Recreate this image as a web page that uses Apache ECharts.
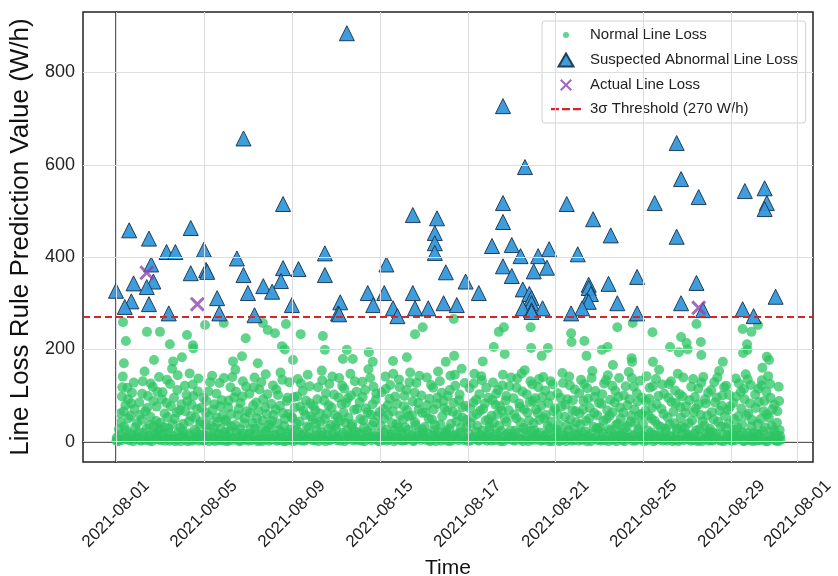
<!DOCTYPE html>
<html>
<head>
<meta charset="utf-8">
<title>Line Loss Rule Prediction</title>
<script src="https://cdn.jsdelivr.net/npm/echarts@6/dist/echarts.min.js"></script>
<style>
    html, body { margin: 0; padding: 0; background: #fff; }
    #main { width: 838px; height: 576px; }
</style>
</head>
<body>
<div id="main"></div>
<script>
// x = day index from 2021-08-01, y = W/h
var tickDays = [0, 4, 8, 12, 16, 20, 24, 28, 31];
var tickLabels = ['2021-08-01', '2021-08-05', '2021-08-09', '2021-08-15', '2021-08-17', '2021-08-21', '2021-08-25', '2021-08-29', '2021-08-01'];
var yTicks = [0, 200, 400, 600, 800];
var threshold = 270;

var normalPoints = [
    [0.02,2],[0.06,4],[0.1,1],[0.16,15],[0.22,42],[0.27,98],[0.31,141],[0.35,66],[0.41,9],[0.47,24],[0.52,117],[0.57,51],[0.63,3],[0.69,83],[0.75,13],[0.81,128],[0.87,31],[0.94,6],
    [1.03,7],[1.09,58],[1.14,2],[1.19,104],[1.25,19],[1.3,152],[1.36,4],[1.42,73],[1.48,11],[1.53,36],[1.58,126],[1.64,1],[1.7,88],[1.76,17],[1.82,45],[1.88,108],[1.93,5],[1.98,27],
    [2.04,3],[2.09,92],[2.15,16],[2.21,61],[2.27,8],[2.32,134],[2.38,29],[2.43,2],[2.5,77],[2.55,158],[2.61,12],[2.67,49],[2.73,5],[2.79,112],[2.84,21],[2.9,68],[2.95,1],
    [3.02,10],[3.07,39],[3.13,121],[3.18,4],[3.24,87],[3.29,18],[3.35,148],[3.41,55],[3.46,2],[3.52,99],[3.58,26],[3.63,7],[3.69,71],[3.75,137],[3.8,14],[3.86,44],[3.92,3],[3.97,95],
    [4.03,6],[4.08,63],[4.14,22],[4.2,109],[4.25,1],[4.31,35],[4.37,143],[4.42,9],[4.48,81],[4.54,17],[4.59,52],[4.65,4],[4.71,127],[4.76,28],[4.82,90],[4.88,11],[4.93,2],[4.98,47],
    [5.04,13],[5.1,74],[5.15,3],[5.21,118],[5.26,33],[5.32,8],[5.38,96],[5.43,156],[5.49,20],[5.55,57],[5.6,1],[5.66,84],[5.72,12],[5.77,131],[5.83,40],[5.89,5],[5.94,66],
    [6.02,2],[6.07,104],[6.13,27],[6.18,9],[6.24,79],[6.3,139],[6.35,15],[6.41,50],[6.47,4],[6.52,113],[6.58,31],[6.64,1],[6.69,92],[6.75,18],[6.81,146],[6.86,60],[6.92,7],[6.97,37],
    [7.03,5],[7.09,45],[7.14,122],[7.2,14],[7.26,70],[7.31,2],[7.37,101],[7.43,25],[7.48,150],[7.54,8],[7.6,62],[7.65,34],[7.71,1],[7.77,88],[7.82,19],[7.88,129],[7.94,3],[7.99,54],
    [8.04,11],[8.1,97],[8.15,4],[8.21,39],[8.27,136],[8.32,21],[8.38,76],[8.44,2],[8.49,110],[8.55,16],[8.61,58],[8.66,6],[8.72,145],[8.78,30],[8.83,83],[8.89,9],[8.95,48],
    [9.02,3],[9.07,68],[9.13,24],[9.19,118],[9.24,7],[9.3,43],[9.36,154],[9.41,13],[9.47,89],[9.53,1],[9.58,61],[9.64,28],[9.7,125],[9.75,5],[9.81,74],[9.87,17],[9.92,102],[9.98,36],
    [10.04,8],[10.09,53],[10.15,138],[10.21,2],[10.26,81],[10.32,19],[10.38,115],[10.43,41],[10.49,6],[10.55,94],[10.6,14],[10.66,147],[10.72,33],[10.77,3],[10.83,69],[10.89,22],[10.94,108],
    [11.03,4],[11.08,86],[11.14,15],[11.2,130],[11.25,46],[11.31,1],[11.37,72],[11.42,23],[11.48,157],[11.54,10],[11.59,59],[11.65,35],[11.71,119],[11.76,7],[11.82,91],[11.88,18],[11.93,2],[11.99,64],
    [12.02,12],[12.08,107],[12.13,3],[12.19,50],[12.25,141],[12.3,26],[12.36,79],[12.42,5],[12.47,123],[12.53,16],[12.59,66],[12.64,1],[12.7,98],[12.76,38],[12.81,9],[12.87,135],[12.93,57],[12.98,20],
    [13.04,2],[13.1,77],[13.15,31],[13.21,112],[13.26,6],[13.32,55],[13.38,150],[13.43,14],[13.49,87],[13.55,3],[13.6,42],[13.66,127],[13.72,21],[13.77,70],[13.83,8],[13.89,100],[13.94,27],
    [14.03,9],[14.08,62],[14.14,139],[14.2,17],[14.25,93],[14.31,4],[14.37,48],[14.42,117],[14.48,25],[14.54,1],[14.59,82],[14.65,152],[14.71,11],[14.76,37],[14.82,106],[14.88,6],[14.93,73],[14.99,19],
    [15.04,5],[15.09,99],[15.15,28],[15.21,143],[15.26,2],[15.32,65],[15.38,13],[15.43,121],[15.49,44],[15.55,7],[15.6,90],[15.66,20],[15.72,158],[15.77,52],[15.83,3],[15.89,78],[15.94,32],
    [16.02,1],[16.08,116],[16.13,40],[16.19,8],[16.25,85],[16.3,147],[16.36,22],[16.42,60],[16.47,4],[16.53,103],[16.59,15],[16.64,133],[16.7,71],[16.76,10],[16.81,46],[16.87,2],[16.93,95],[16.98,26],
    [17.04,7],[17.09,56],[17.15,128],[17.21,3],[17.26,80],[17.32,18],[17.38,112],[17.43,34],[17.49,1],[17.55,67],[17.6,145],[17.66,12],[17.72,89],[17.77,43],[17.83,6],[17.89,120],[17.94,24],
    [18.03,11],[18.08,94],[18.14,2],[18.2,51],[18.25,137],[18.31,19],[18.37,75],[18.42,5],[18.48,109],[18.54,30],[18.59,155],[18.65,9],[18.71,63],[18.76,1],[18.82,86],[18.88,23],[18.93,124],[18.99,40],
    [19.04,4],[19.1,70],[19.15,16],[19.21,118],[19.26,47],[19.32,2],[19.38,97],[19.43,140],[19.49,13],[19.55,58],[19.6,6],[19.66,84],[19.72,29],[19.77,131],[19.83,1],[19.89,66],[19.94,21],
    [20.02,8],[20.08,105],[20.13,37],[20.19,3],[20.25,76],[20.3,149],[20.36,14],[20.42,54],[20.47,1],[20.53,92],[20.59,25],[20.64,122],[20.7,10],[20.76,68],[20.81,4],[20.87,113],[20.93,42],[20.98,17],
    [21.04,2],[21.09,61],[21.15,134],[21.21,20],[21.26,88],[21.32,6],[21.38,45],[21.43,116],[21.49,12],[21.55,73],[21.6,1],[21.66,153],[21.72,32],[21.77,97],[21.83,9],[21.89,57],[21.94,26],
    [22.03,5],[22.08,82],[22.14,18],[22.2,126],[22.25,3],[22.31,49],[22.37,144],[22.42,27],[22.48,91],[22.54,7],[22.59,64],[22.65,14],[22.71,110],[22.76,1],[22.82,39],[22.88,138],[22.93,74],[22.99,11],
    [23.04,3],[23.1,100],[23.15,30],[23.21,9],[23.26,79],[23.32,151],[23.38,16],[23.43,56],[23.49,2],[23.55,119],[23.6,41],[23.66,6],[23.72,87],[23.77,22],[23.83,132],[23.89,60],[23.94,13],
    [24.02,1],[24.08,67],[24.13,142],[24.19,24],[24.25,93],[24.3,8],[24.36,50],[24.42,120],[24.47,15],[24.53,4],[24.59,81],[24.64,36],[24.7,156],[24.76,11],[24.81,71],[24.87,2],[24.93,104],[24.98,28],
    [25.04,6],[25.09,53],[25.15,125],[25.21,12],[25.26,86],[25.32,1],[25.38,40],[25.43,111],[25.49,21],[25.55,147],[25.6,5],[25.66,75],[25.72,33],[25.77,98],[25.83,3],[25.89,62],[25.94,18],
    [26.03,9],[26.08,90],[26.14,2],[26.2,46],[26.25,136],[26.31,17],[26.37,72],[26.42,4],[26.48,115],[26.54,27],[26.59,58],[26.65,1],[26.71,140],[26.76,35],[26.82,83],[26.88,10],[26.93,106],[26.99,22],
    [27.04,4],[27.1,64],[27.15,20],[27.21,129],[27.26,7],[27.32,96],[27.38,43],[27.43,153],[27.49,2],[27.55,78],[27.6,15],[27.66,118],[27.72,31],[27.77,5],[27.83,69],[27.89,101],[27.94,12],
    [28.02,2],[28.08,84],[28.13,26],[28.19,137],[28.25,8],[28.3,55],[28.36,14],[28.42,108],[28.47,38],[28.53,1],[28.59,92],[28.64,146],[28.7,19],[28.76,61],[28.81,4],[28.87,123],[28.93,47],[28.98,10],
    [29.04,6],[29.09,73],[29.15,18],[29.21,114],[29.26,3],[29.32,49],[29.38,133],[29.43,23],[29.49,88],[29.55,1],[29.6,59],[29.66,142],[29.72,13],[29.77,95],[29.83,34],[29.89,7],[29.94,80],
    [30.02,2],[30.06,41],[30.1,9],[30.14,119],[30.18,25],[30.22,4],
    // second pass, mostly the lower band
    [0.04,9],[0.13,27],[0.19,61],[0.24,3],[0.29,118],[0.37,33],[0.43,79],[0.5,5],[0.55,92],[0.61,18],[0.67,56],[0.73,106],[0.78,1],[0.84,71],[0.9,11],[0.96,40],
    [1.01,21],[1.06,85],[1.12,4],[1.17,47],[1.22,131],[1.28,9],[1.33,66],[1.39,28],[1.45,99],[1.51,2],[1.56,54],[1.62,15],[1.67,119],[1.73,35],[1.79,7],[1.85,76],[1.91,24],[1.96,140],
    [2.02,41],[2.07,12],[2.12,107],[2.18,32],[2.24,2],[2.3,84],[2.35,53],[2.41,19],[2.46,125],[2.52,6],[2.58,38],[2.64,95],[2.7,1],[2.76,63],[2.81,144],[2.87,9],[2.93,30],[2.98,81],
    [3.04,23],[3.1,8],[3.15,66],[3.21,101],[3.27,1],[3.32,44],[3.38,13],[3.44,80],[3.49,124],[3.55,5],[3.61,52],[3.66,20],[3.72,109],[3.78,2],[3.83,37],[3.89,74],[3.95,16],
    [4.01,2],[4.06,37],[4.11,88],[4.17,12],[4.23,55],[4.28,129],[4.34,6],[4.4,69],[4.45,30],[4.51,1],[4.57,104],[4.62,43],[4.68,16],[4.74,77],[4.79,3],[4.85,58],[4.91,138],[4.96,21],
    [5.02,44],[5.07,1],[5.13,89],[5.18,23],[5.24,60],[5.29,140],[5.35,4],[5.41,36],[5.46,108],[5.52,9],[5.58,71],[5.63,27],[5.69,2],[5.75,98],[5.8,18],[5.86,51],[5.92,119],[5.97,7],
    [6.04,16],[6.1,62],[6.15,3],[6.21,41],[6.27,118],[6.32,28],[6.38,85],[6.44,1],[6.49,66],[6.55,10],[6.61,129],[6.66,46],[6.72,5],[6.78,74],[6.83,23],[6.89,103],[6.95,2],
    [7.01,30],[7.06,82],[7.12,6],[7.17,58],[7.23,14],[7.29,113],[7.34,40],[7.4,3],[7.46,78],[7.51,21],[7.57,134],[7.63,1],[7.68,49],[7.74,11],[7.8,95],[7.85,60],[7.91,26],[7.97,7],
    [8.02,51],[8.07,1],[8.13,74],[8.18,25],[8.24,98],[8.3,5],[8.35,44],[8.41,126],[8.47,13],[8.52,67],[8.58,2],[8.64,89],[8.69,33],[8.75,10],[8.81,120],[8.86,55],[8.92,4],[8.98,77],
    [9.04,13],[9.1,40],[9.16,92],[9.21,1],[9.27,61],[9.33,22],[9.38,133],[9.44,6],[9.5,49],[9.55,105],[9.61,15],[9.67,79],[9.72,3],[9.78,36],[9.84,141],[9.89,9],[9.95,58],
    [10.01,28],[10.06,3],[10.12,96],[10.18,45],[10.23,12],[10.29,121],[10.35,63],[10.4,1],[10.46,84],[10.52,25],[10.57,52],[10.63,7],[10.69,100],[10.74,38],[10.8,16],[10.86,131],[10.91,4],[10.97,71],
    [11.05,20],[11.11,49],[11.16,2],[11.22,97],[11.28,31],[11.33,112],[11.39,8],[11.45,63],[11.5,17],[11.56,138],[11.62,3],[11.67,81],[11.73,42],[11.79,11],[11.84,104],[11.9,55],[11.96,1],
    [12.04,35],[12.1,6],[12.16,71],[12.21,19],[12.27,114],[12.33,2],[12.38,58],[12.44,93],[12.5,10],[12.56,40],[12.61,147],[12.67,24],[12.73,5],[12.78,82],[12.84,31],[12.9,118],[12.95,3],
    [13.01,15],[13.07,48],[13.12,99],[13.18,3],[13.24,68],[13.29,26],[13.35,129],[13.41,9],[13.46,57],[13.52,1],[13.58,106],[13.63,36],[13.69,13],[13.75,84],[13.8,143],[13.86,4],[13.92,62],[13.97,19],
    [14.05,32],[14.11,4],[14.16,79],[14.22,50],[14.28,1],[14.33,123],[14.39,14],[14.45,70],[14.5,36],[14.56,8],[14.62,96],[14.67,20],[14.73,131],[14.79,2],[14.84,55],[14.9,88],[14.96,12],
    [15.02,22],[15.07,67],[15.12,1],[15.18,112],[15.24,39],[15.29,9],[15.35,84],[15.41,145],[15.46,16],[15.52,58],[15.58,3],[15.63,102],[15.69,30],[15.75,74],[15.8,11],[15.86,127],[15.92,47],[15.97,6],
    [16.04,19],[16.1,72],[16.16,3],[16.21,53],[16.27,126],[16.33,11],[16.38,91],[16.44,34],[16.5,2],[16.56,67],[16.61,142],[16.67,24],[16.73,6],[16.78,83],[16.84,117],[16.9,13],[16.95,48],
    [17.01,33],[17.07,2],[17.12,90],[17.18,41],[17.24,14],[17.29,104],[17.35,60],[17.4,5],[17.46,77],[17.52,23],[17.57,122],[17.63,1],[17.69,50],[17.75,99],[17.8,17],[17.86,68],[17.92,9],[17.97,139],
    [18.05,3],[18.11,59],[18.17,24],[18.22,117],[18.28,8],[18.34,83],[18.39,42],[18.45,148],[18.51,1],[18.56,70],[18.62,27],[18.68,103],[18.73,12],[18.79,46],[18.85,131],[18.9,5],[18.96,88],
    [19.02,25],[19.07,94],[19.13,7],[19.18,62],[19.24,136],[19.29,20],[19.35,78],[19.41,3],[19.46,51],[19.52,111],[19.58,15],[19.63,34],[19.69,1],[19.75,99],[19.8,43],[19.86,124],[19.92,9],[19.97,72],
    [20.05,26],[20.1,58],[20.16,1],[20.22,95],[20.27,19],[20.33,127],[20.39,6],[20.44,80],[20.5,35],[20.56,12],[20.61,141],[20.67,48],[20.73,2],[20.78,90],[20.84,28],[20.9,66],[20.95,8],
    [21.01,14],[21.07,105],[21.12,38],[21.18,4],[21.24,70],[21.29,125],[21.35,22],[21.41,1],[21.46,93],[21.52,50],[21.58,16],[21.63,138],[21.69,7],[21.75,62],[21.8,110],[21.86,29],[21.92,3],[21.97,84],
    [22.01,31],[22.06,2],[22.11,103],[22.17,45],[22.23,10],[22.28,133],[22.34,68],[22.4,1],[22.45,56],[22.51,24],[22.57,121],[22.62,4],[22.68,85],[22.74,36],[22.79,12],[22.85,97],[22.91,20],[22.96,50],
    [23.01,18],[23.07,63],[23.13,1],[23.18,120],[23.24,34],[23.29,8],[23.35,92],[23.41,44],[23.46,138],[23.52,13],[23.58,70],[23.63,2],[23.69,105],[23.75,27],[23.8,57],[23.86,5],[23.92,96],[23.97,39],
    [24.04,10],[24.1,88],[24.16,3],[24.21,57],[24.27,117],[24.33,20],[24.38,73],[24.44,1],[24.5,45],[24.56,136],[24.61,14],[24.67,99],[24.73,5],[24.78,32],[24.84,124],[24.9,60],[24.95,9],
    [25.01,22],[25.07,2],[25.12,95],[25.18,37],[25.24,131],[25.29,10],[25.35,65],[25.41,4],[25.46,84],[25.52,28],[25.58,1],[25.63,103],[25.69,52],[25.75,16],[25.8,139],[25.86,30],[25.92,77],[25.97,6],
    [26.05,40],[26.11,13],[26.16,119],[26.22,3],[26.28,64],[26.33,97],[26.39,25],[26.45,1],[26.5,81],[26.56,10],[26.62,128],[26.67,44],[26.73,6],[26.79,92],[26.84,18],[26.9,57],[26.96,2],
    [27.01,28],[27.07,112],[27.13,2],[27.18,48],[27.24,85],[27.29,17],[27.35,139],[27.41,5],[27.46,67],[27.52,33],[27.58,100],[27.63,1],[27.69,56],[27.75,121],[27.8,14],[27.86,39],[27.92,76],[27.97,3],
    [28.04,17],[28.1,49],[28.16,3],[28.21,98],[28.27,30],[28.33,126],[28.38,6],[28.44,72],[28.5,20],[28.56,114],[28.61,2],[28.67,57],[28.73,135],[28.78,11],[28.84,83],[28.9,33],[28.95,1],
    [29.01,20],[29.07,102],[29.12,2],[29.18,39],[29.24,86],[29.29,15],[29.35,122],[29.41,5],[29.46,66],[29.52,31],[29.58,108],[29.63,1],[29.69,52],[29.75,125],[29.8,12],[29.86,70],[29.92,24],[29.97,3],
    [30.04,15],[30.08,66],[30.12,1],[30.16,88],[30.2,12],
    // sparse upper points
    [0.32,259],[1.41,238],[2.0,238],[0.45,218],[3.23,231],[2.45,211],[3.5,209],[3.52,202],[4.05,253],[4.9,257],[5.9,224],[6.68,257],[6.9,242],[7.23,235],
    [7.73,255],[7.55,207],[7.68,200],[8.4,233],[9.41,229],[9.5,199],[8.05,177],[0.36,170],[1.73,177],[2.6,174],[3.0,183],[5.32,174],[5.73,185],[6.45,170],
    [10.5,199],[11.5,194],[10.32,179],[10.77,179],[11.68,173],[13.6,233],[13.95,248],[12.6,175],[13.23,183],[15.36,266],[17.41,238],[17.64,248],[17.18,205],
    [17.68,190],[18.86,248],[18.88,203],[19.64,203],[19.36,186],[15.38,186],[16.68,174],[15.0,173],
    [22.8,248],[23.5,257],[24.4,237],[21.3,218],[20.7,235],[20.72,216],[22.1,199],[22.36,205],[21.4,186],[25.2,205],[25.7,227],[25.95,214],[26.0,200],[25.6,194],
    [26.6,216],[26.62,188],[26.4,255],[28.5,244],[28.9,238],[29.2,253],[28.7,211],[28.72,199],[28.52,192],[29.6,184],[29.7,177],[29.4,160],[23.45,181],[23.47,173],
    [27.6,173],[22.6,166],[24.42,173]
];

var abnormalPoints = [
    [10.5,885],[17.6,727],[5.8,657],[25.5,647],[18.6,595],[25.7,569],[29.5,549],[28.6,543],[26.5,530],[7.6,515],
    [17.6,517],[20.5,515],[24.5,517],[29.6,517],[29.5,504],[13.5,491],[14.6,484],[21.7,482],[17.6,476],[0.6,458],
    [3.4,463],[14.5,452],[22.5,447],[25.5,444],[1.5,440],[14.5,430],[18.0,426],[17.1,424],[19.7,417],[4.0,416],
    [2.3,411],[2.7,411],[9.5,408],[14.5,409],[21.0,406],[18.4,402],[19.2,402],[5.5,397],[1.6,384],[12.3,384],
    [17.6,380],[19.6,377],[8.3,374],[7.6,376],[4.1,372],[4.15,368],[19.0,369],[15.0,367],[3.4,365],[5.8,361],
    [9.5,361],[18.0,359],[23.7,357],[7.5,348],[1.7,347],[15.9,347],[0.8,343],[22.4,342],[26.4,344],[21.5,340],
    [6.7,337],[1.4,335],[21.5,333],[18.5,330],[0,327],[7.1,325],[6.0,322],[11.45,322],[12.2,322],[13.5,322],
    [16.5,322],[18.8,320],[21.6,320],[30.0,314],[4.6,311],[18.9,311],[21.4,305],[0.7,304],[10.2,302],[18.9,300],
    [14.9,300],[22.8,300],[25.7,300],[21.5,303],[1.5,298],[8.0,296],[11.7,296],[15.5,296],[0.4,292],[12.6,289],
    [13.6,289],[14.2,289],[18.5,289],[19.4,289],[21.2,289],[18.9,285],[26.7,285],[28.5,287],[18.9,281],[2.4,278],
    [4.7,278],[10.1,278],[10.15,276],[20.7,278],[23.7,278],[6.3,274],[12.8,272],[29.0,272]
];

var actualPoints = [[1.4,366],[3.7,298],[26.5,290]];

var xMin = -1.5, xMax = 31.7;
var yMin = -44, yMax = 931;

// marker shapes (legend icons drawn inside a 30x16 box)
var crossPath = 'path://M0,1.4L1.4,0L5,3.6L8.6,0L10,1.4L6.4,5L10,8.6L8.6,10L5,6.4L1.4,10L0,8.6L3.6,5Z';
var iconDot = 'path://M0,0M30,16M12,8a3,3 0 1,0 6,0a3,3 0 1,0 -6,0Z';
var iconTriangle = 'path://M0,0M30,16M7.5,14.5L15,1.5L22.5,14.5Z';
var iconCross = 'path://M0,0M30,16M9,3.5L10.5,2L15,6.5L19.5,2L21,3.5L16.5,8L21,12.5L19.5,14L15,9.5L10.5,14L9,12.5L13.5,8Z';
var iconDash = 'path://M0,0M30,16M0,7h8v2.2h-8zM11,7h8v2.2h-8zM22,7h8v2.2h-8z';

var myChart = echarts.init(document.getElementById('main'));

var gridLines = [];
for (var i = 0; i < tickDays.length; i++) {
    gridLines.push({ xAxis: tickDays[i] });
}
for (var j = 0; j < yTicks.length; j++) {
    gridLines.push({ yAxis: yTicks[j] });
}

var option = {
    animation: false,
    backgroundColor: '#fff',
    textStyle: { fontFamily: 'Liberation Sans, Arial, sans-serif' },
    grid: {
        left: 83, right: 25, top: 12, bottom: 114,
        containLabel: false,
        outerBoundsMode: 'none',
        show: true, borderColor: '#222', borderWidth: 1.5
    },
    legend: {
        orient: 'vertical',
        left: 542, top: 21,
        padding: [6, 8, 6, 8],
        itemGap: 8,
        itemWidth: 30, itemHeight: 16,
        backgroundColor: 'rgba(255,255,255,0.9)',
        borderColor: '#d0d0d0', borderWidth: 1, borderRadius: 3,
        textStyle: { fontSize: 15, color: '#222', padding: [0, 0, 0, 4] },
        data: [
            { name: 'Normal Line Loss', icon: iconDot },
            { name: 'Suspected Abnormal Line Loss', icon: iconTriangle },
            { name: 'Actual Line Loss', icon: iconCross },
            { name: '3σ Threshold (270 W/h)', icon: iconDash }
        ]
    },
    xAxis: {
        type: 'value',
        min: xMin, max: xMax,
        name: 'Time',
        nameLocation: 'middle',
        nameGap: 96,
        nameTextStyle: { fontSize: 21, color: '#111' },
        axisLine: { show: true, lineStyle: { color: '#222', width: 1.5 } },
        axisTick: { show: true, length: 5, customValues: tickDays, lineStyle: { color: '#222' } },
        axisLabel: {
            customValues: tickDays,
            rotate: 45,
            align: 'center',
            verticalAlign: 'middle',
            fontSize: 17,
            color: '#222',
            margin: 52,
            formatter: function(v) {
                var k = tickDays.indexOf(v);
                return k >= 0 ? tickLabels[k] : '';
            }
        },
        splitLine: { show: false }
    },
    yAxis: {
        type: 'value',
        min: yMin, max: yMax,
        name: 'Line Loss Rule Prediction Value (W/h)',
        nameLocation: 'middle',
        nameGap: 47,
        nameTextStyle: { fontSize: 26, color: '#111' },
        axisLine: { show: true, lineStyle: { color: '#222', width: 1.5 } },
        axisTick: { show: true, length: 5, customValues: yTicks, lineStyle: { color: '#222' } },
        axisLabel: { customValues: yTicks, fontSize: 18, color: '#222', margin: 8 },
        splitLine: { show: false }
    },
    series: [{
        // grid lines
        type: 'scatter',
        data: [],
        z: 0,
        silent: true,
        markLine: {
            silent: true,
            symbol: ['none', 'none'],
            label: { show: false },
            lineStyle: { color: '#dcdde3', width: 1, type: 'solid' },
            data: gridLines
        }
    }, {
        name: 'Normal Line Loss',
        type: 'scatter',
        data: normalPoints,
        symbolSize: 10,
        z: 2,
        itemStyle: { color: '#2cc463', opacity: 0.75 }
    }, {
        name: 'Suspected Abnormal Line Loss',
        type: 'scatter',
        data: abnormalPoints,
        symbol: 'triangle',
        symbolSize: 15,
        z: 3,
        itemStyle: { color: '#3498db', borderColor: '#1c3550', borderWidth: 1, opacity: 0.95 }
    }, {
        name: 'Actual Line Loss',
        type: 'scatter',
        data: actualPoints,
        symbol: crossPath,
        symbolSize: 15,
        z: 4,
        itemStyle: { color: '#8e44ad' }
    }, {
        name: '3σ Threshold (270 W/h)',
        type: 'line',
        data: [[xMin, threshold], [xMax, threshold]],
        symbol: 'none',
        z: 5,
        lineStyle: { color: '#d62728', width: 2, type: [7, 4] },
        itemStyle: { color: '#d62728' }
    }]
};

myChart.setOption(option);
</script>
</body>
</html>
